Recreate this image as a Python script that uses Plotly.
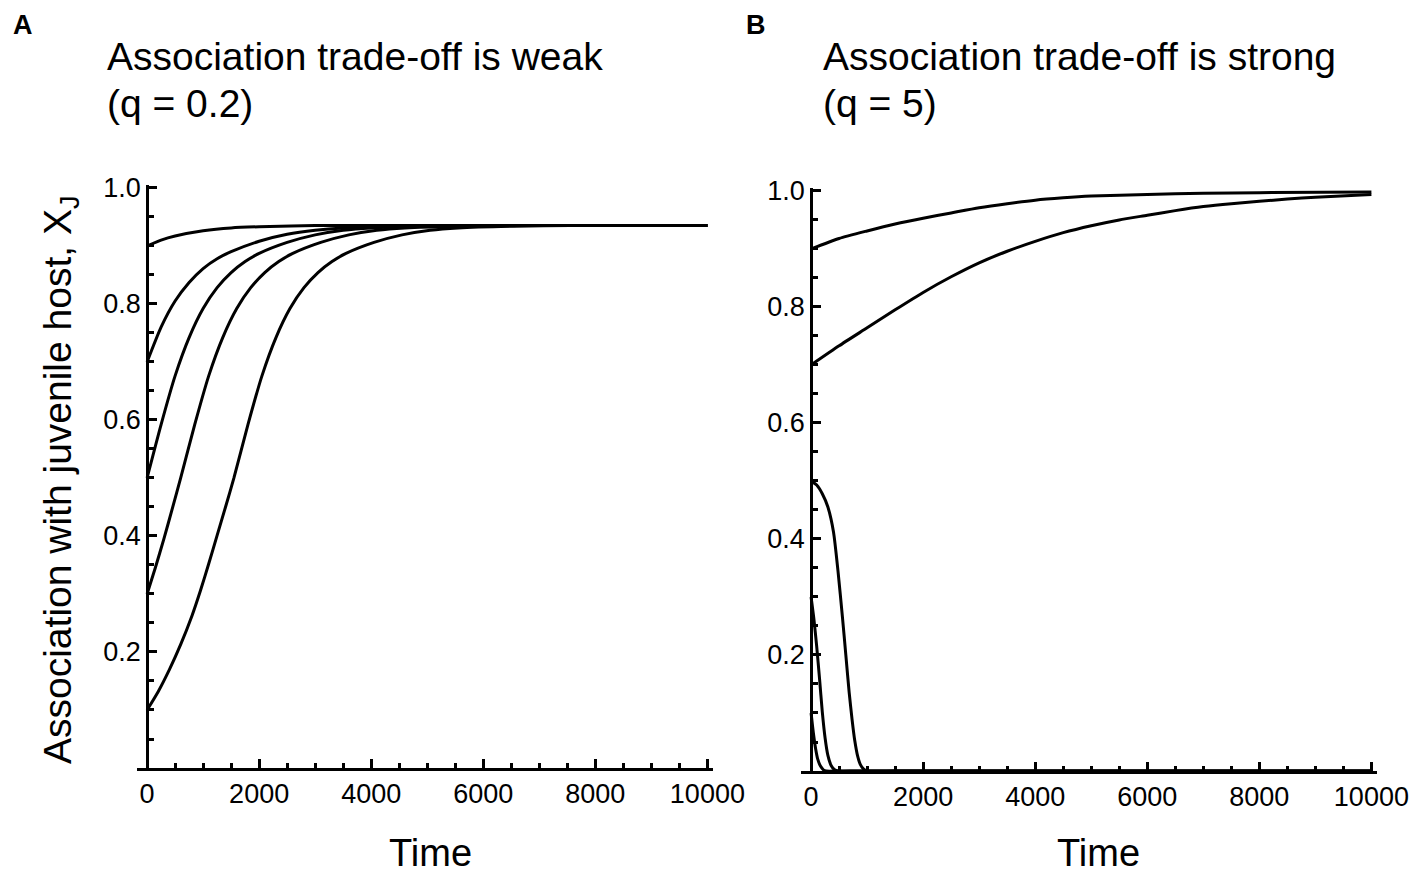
import plotly.graph_objects as go

# ---------------- data ----------------
# Panel A: weak trade-off (q = 0.2)
a_t_09 = [0, 250, 500, 1000, 1500, 2000, 3000, 10000]
a_v_09 = [0.900, 0.910, 0.917, 0.926, 0.931, 0.933, 0.935, 0.935]

a_t_07 = [0, 250, 500, 750, 1000, 1250, 1500, 2000, 2500, 3000, 3500, 4500, 5500, 10000]
a_v_07 = [0.700, 0.760, 0.805, 0.837, 0.861, 0.878, 0.890, 0.908, 0.920, 0.927, 0.931, 0.934, 0.935, 0.935]

a_t_05 = [0, 250, 500, 750, 1000, 1250, 1500, 1750, 2000, 2500, 3000, 3500, 4000, 5000, 6000, 10000]
a_v_05 = [0.500, 0.592, 0.676, 0.742, 0.792, 0.828, 0.854, 0.873, 0.887, 0.906, 0.919, 0.927, 0.931, 0.934, 0.935, 0.935]

a_t_03 = [0, 150, 300, 450, 600, 850, 1100, 1350, 1600, 1850, 2100, 2350, 2600, 3100, 3600, 4100, 4600, 5600, 6600, 10000]
a_v_03 = [0.300, 0.346, 0.395, 0.447, 0.500, 0.592, 0.676, 0.742, 0.792, 0.828, 0.854, 0.873, 0.887, 0.906, 0.919, 0.927, 0.931, 0.934, 0.935, 0.935]

a_t_01 = [0, 200, 400, 600, 800, 950, 1100, 1250, 1400, 1550, 1800, 2050, 2300, 2550, 2800, 3050, 3300, 3550, 4050, 4550, 5050, 5550, 6550, 7550, 10000]
a_v_01 = [0.100, 0.132, 0.170, 0.213, 0.262, 0.305, 0.352, 0.401, 0.450, 0.500, 0.592, 0.676, 0.742, 0.792, 0.828, 0.854, 0.873, 0.887, 0.906, 0.919, 0.927, 0.931, 0.934, 0.935, 0.935]

# Panel B: strong trade-off (q = 5)
b_t_09 = [0, 500, 1000, 1500, 2000, 2500, 3000, 3500, 4000, 4500, 5000, 6000, 7000, 8000, 10000]
b_v_09 = [0.900, 0.918, 0.931, 0.943, 0.953, 0.962, 0.971, 0.978, 0.984, 0.988, 0.991, 0.994, 0.996, 0.997, 0.998]

b_t_07 = [0, 500, 1000, 1500, 2000, 2500, 3000, 3500, 4000, 4500, 5000, 5500, 6000, 6500, 7000, 7500, 8000, 8500, 9000, 10000]
b_v_07 = [0.700, 0.733, 0.764, 0.795, 0.825, 0.852, 0.876, 0.896, 0.913, 0.928, 0.940, 0.950, 0.958, 0.966, 0.973, 0.978, 0.982, 0.986, 0.989, 0.994]

b_t_05 = [0, 100, 200, 300, 400, 480, 560, 620, 680, 730, 780, 830, 880, 940, 1000, 1500, 3000, 6000, 10000]
b_v_05 = [0.500, 0.493, 0.478, 0.455, 0.412, 0.345, 0.265, 0.200, 0.135, 0.090, 0.052, 0.026, 0.011, 0.003, 0.0, 0.0, 0.0, 0.0, 0.0]

b_t_03 = [0, 50, 100, 150, 200, 250, 300, 360, 420, 480, 800, 3000, 6000, 10000]
b_v_03 = [0.300, 0.262, 0.215, 0.160, 0.102, 0.057, 0.027, 0.009, 0.002, 0.0, 0.0, 0.0, 0.0, 0.0]

b_t_01 = [0, 40, 80, 120, 170, 220, 270, 500, 3000, 6000, 10000]
b_v_01 = [0.100, 0.066, 0.039, 0.020, 0.008, 0.002, 0.0, 0.0, 0.0, 0.0, 0.0]

x_tickvals = [0, 2000, 4000, 6000, 8000, 10000]
x_ticktext = ["0", "2000", "4000", "6000", "8000", "10000"]
y_tickvals = [0.2, 0.4, 0.6, 0.8, 1.0]
y_ticktext = ["0.2", "0.4", "0.6", "0.8", "1.0"]

panel_labels = ["A", "B"]
title_line1 = ["Association trade-off is weak", "Association trade-off is strong"]
title_line2 = ["(q = 0.2)", "(q = 5)"]
y_title = "Association with juvenile host, X<sub>J</sub>"
x_title = "Time"

# ---------------- figure ----------------
W, H = 1417, 879
OFF = 8  # page body margin offset of the rendered figure
FONT = "Liberation Sans, Arial, Helvetica, sans-serif"

def px(x):
    return (x - OFF) / W

def py(y):
    return 1 - (y - OFF) / H

fig = go.Figure()

line = dict(color="black", width=3, shape="spline", smoothing=0.6)
for t, v in [(a_t_09, a_v_09), (a_t_07, a_v_07), (a_t_05, a_v_05), (a_t_03, a_v_03), (a_t_01, a_v_01)]:
    fig.add_trace(go.Scatter(x=t, y=v, mode="lines", line=line, xaxis="x", yaxis="y",
                             showlegend=False, hoverinfo="skip"))
for t, v in [(b_t_09, b_v_09), (b_t_07, b_v_07), (b_t_05, b_v_05), (b_t_03, b_v_03), (b_t_01, b_v_01)]:
    fig.add_trace(go.Scatter(x=t, y=v, mode="lines", line=line, xaxis="x2", yaxis="y2",
                             showlegend=False, hoverinfo="skip"))

tickfont = dict(family=FONT, size=27, color="black")

def xaxis(domain, anchor):
    return dict(domain=domain, anchor=anchor, range=[-180, 10100], automargin=False,
                showgrid=False, zeroline=False, showline=True, linecolor="black", linewidth=2.5,
                tickmode="array", tickvals=x_tickvals, ticktext=x_ticktext,
                ticks="inside", ticklen=9, tickwidth=2.5, tickcolor="black",
                minor=dict(tickmode="linear", tick0=0, dtick=500, ticks="inside",
                           ticklen=5, tickwidth=2.5, tickcolor="black", showgrid=False),
                tickfont=tickfont, fixedrange=True)

def yaxis(domain, position):
    return dict(domain=domain, anchor="free", position=position, range=[0, 1.005], automargin=False,
                showgrid=False, zeroline=False, showline=True, linecolor="black", linewidth=2.5,
                tickmode="array", tickvals=y_tickvals, ticktext=y_ticktext,
                ticks="inside", ticklen=8, tickwidth=2.5, tickcolor="black",
                minor=dict(tickmode="linear", tick0=0, dtick=0.05, ticks="inside",
                           ticklen=5, tickwidth=2.5, tickcolor="black", showgrid=False),
                tickfont=tickfont, fixedrange=True)

fig.update_layout(
    template="none",
    width=W, height=H, autosize=False,
    margin=dict(l=0, r=0, t=0, b=0, pad=0),
    paper_bgcolor="white", plot_bgcolor="white",
    xaxis=xaxis([px(137), px(713)], "y"),
    yaxis=yaxis([py(768), py(185)], px(147)),
    xaxis2=xaxis([px(801), px(1377)], "y2"),
    yaxis2=yaxis([py(771), py(188)], px(811)),
)

ann = []
# panel letters
for lbl, x in zip(panel_labels, [23, 756]):
    ann.append(dict(text="<b>%s</b>" % lbl, x=px(x), y=1.0, xref="paper", yref="paper",
                    xanchor="center", yanchor="top", showarrow=False,
                    font=dict(family=FONT, size=27, color="black")))
# titles
for l1, l2, x in zip(title_line1, title_line2, [105, 821]):
    ann.append(dict(text=l1, x=px(x), y=py(57), xref="paper", yref="paper",
                    xanchor="left", yanchor="middle", showarrow=False,
                    font=dict(family=FONT, size=39, color="black")))
    ann.append(dict(text=l2, x=px(x), y=py(104), xref="paper", yref="paper",
                    xanchor="left", yanchor="middle", showarrow=False,
                    font=dict(family=FONT, size=39, color="black")))
# y axis title
ann.append(dict(text=y_title, x=px(60), y=py(480), xref="paper", yref="paper",
                xanchor="center", yanchor="middle", showarrow=False, textangle=-90,
                font=dict(family=FONT, size=39, color="black")))
# x axis titles
for x in [430, 1098]:
    ann.append(dict(text=x_title, x=px(x), y=py(853), xref="paper", yref="paper",
                    xanchor="center", yanchor="middle", showarrow=False,
                    font=dict(family=FONT, size=38, color="black")))
fig.update_layout(annotations=ann)

fig.write_html("out.html")
